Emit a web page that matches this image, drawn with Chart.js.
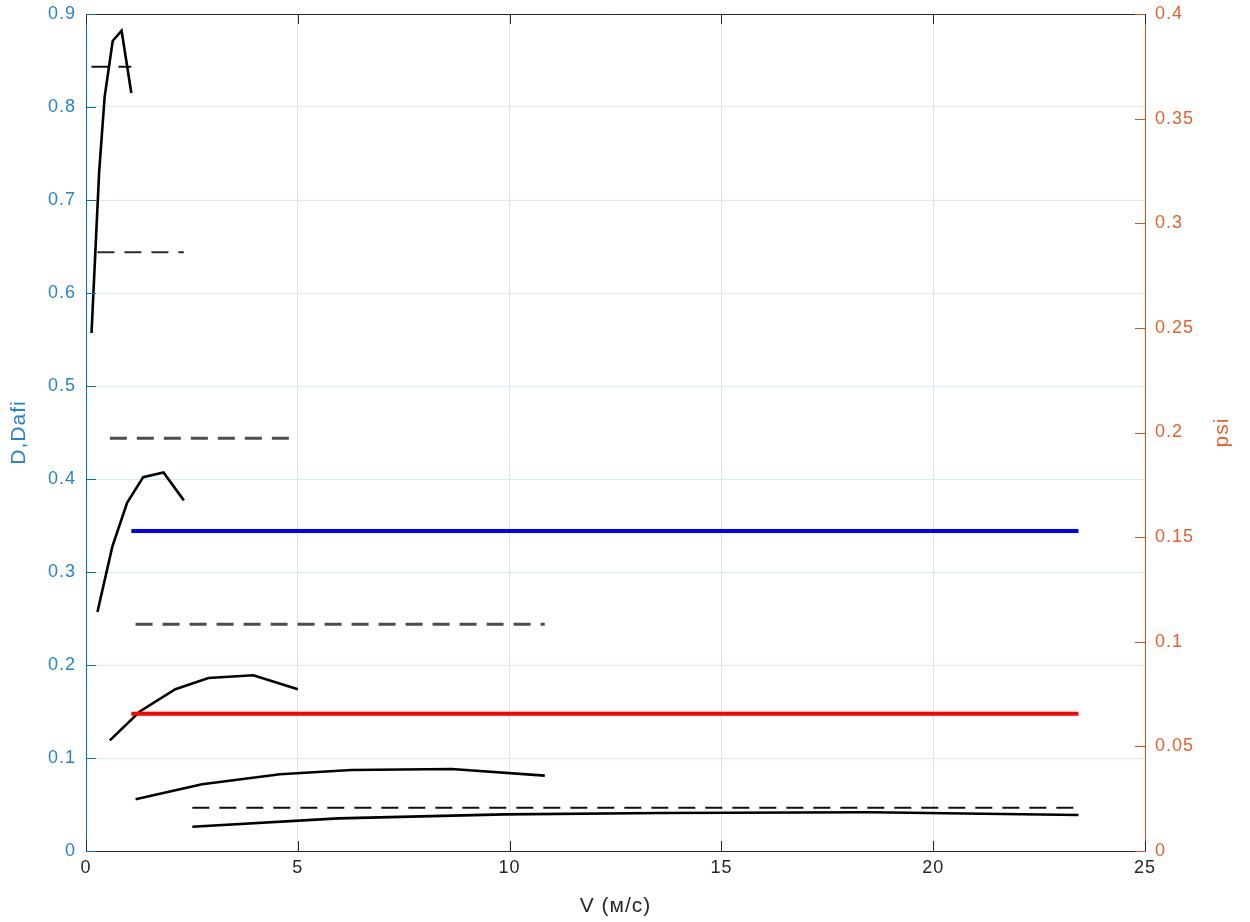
<!DOCTYPE html>
<html>
<head>
<meta charset="utf-8">
<script src="https://cdn.jsdelivr.net/npm/chart.js@4.4.1/dist/chart.umd.min.js"></script>
<style>
  html, body { margin: 0; padding: 0; background: #ffffff; }
  #wrap { width: 1250px; height: 922px; }
</style>
</head>
<body>
<div id="wrap"><canvas id="chart" width="1250" height="922"></canvas></div>
<script>
// Velocity (m/s) and D values of the five measured curves
const v1 = [0.13, 0.31, 0.44, 0.63, 0.84, 1.07];
const d1 = [0.557, 0.730, 0.811, 0.871, 0.882, 0.815];
const v2 = [0.27, 0.62, 0.97, 1.35, 1.83, 2.31];
const d2 = [0.257, 0.327, 0.3745, 0.402, 0.407, 0.377];
const v3 = [0.563, 1.27, 2.11, 2.89, 3.95, 5.0];
const d3 = [0.119, 0.150, 0.174, 0.186, 0.189, 0.174];
const v4 = [1.17, 2.74, 4.58, 6.26, 8.63, 10.83];
const d4 = [0.0556, 0.0717, 0.0825, 0.0871, 0.0882, 0.0810];
const v5 = [2.51, 5.95, 9.88, 13.56, 18.5, 23.43];
const d5 = [0.0261, 0.0351, 0.0394, 0.0409, 0.0416, 0.0387];

// Dafi levels (dashed), each spanning the velocity range of its curve
const dafi = [0.8434, 0.6438, 0.4438, 0.2438, 0.0466];

// psi levels on the right axis over the full velocity range
const psiRange = [1.07, 23.43];
const psiBlue = [0.1529, 0.1529];
const psiRed = [0.0656, 0.0656];

// Tick labels
const vTickLabels = ['0', '5', '10', '15', '20', '25'];
const dTickLabels = ['0', '0.1', '0.2', '0.3', '0.4', '0.5', '0.6', '0.7', '0.8', '0.9'];
const psiTickLabels = ['0', '0.05', '0.1', '0.15', '0.2', '0.25', '0.3', '0.35', '0.4'];
const psiTitle = 'psi';

const FONT = '"Liberation Sans", Arial, Helvetica, sans-serif';
const AX_DARK = '#262626';
const AX_BLUE = '#0072BD';
const AX_ORANGE = '#D95319';
const TXT_BLUE = '#2584cc';
const TXT_ORANGE = '#e0622e';

const pts = (xs, ys) => xs.map((x, i) => ({ x: x, y: ys[i] }));

const curves = [[v1, d1], [v2, d2], [v3, d3], [v4, d4], [v5, d5]];
const dashColors = ['#111111', '#2b2b2b', '#4d4d4d', '#4d4d4d', '#111111'];
const dashWidths = [2, 2, 3, 3, 2];

const datasets = [
  { data: pts(psiRange, psiBlue), yAxisID: 'y2', borderColor: '#0000ff', borderWidth: 4 },
  { data: pts(psiRange, psiRed), yAxisID: 'y2', borderColor: '#ff0000', borderWidth: 4 }
];
curves.forEach(([vs, ds]) => {
  datasets.push({ data: pts(vs, ds), yAxisID: 'y', borderColor: '#000000', borderWidth: 2.6 });
});
curves.forEach(([vs], i) => {
  const span = [vs[0], vs[vs.length - 1]];
  datasets.push({
    data: pts(span, [dafi[i], dafi[i]]), yAxisID: 'y',
    borderColor: dashColors[i], borderWidth: dashWidths[i], borderDash: [17, 10]
  });
});
datasets.forEach(ds => { ds.pointRadius = 0; ds.tension = 0; ds.fill = false; });

// Slightly wider text spacing for the axis lettering
const textSpacing = {
  id: 'textSpacing',
  beforeDraw(chart) { chart.ctx.letterSpacing = '1px'; }
};

// Tick marks pointing into the plot box, the top edge of the box,
// and the right-hand axis title reading upwards like the left one
const innerTicks = {
  id: 'innerTicks',
  afterDraw(chart) {
    const { ctx, chartArea: a, scales } = chart;
    const len = 10;
    ctx.save();
    ctx.lineWidth = 1;
    ctx.strokeStyle = AX_DARK;
    ctx.beginPath();
    ctx.moveTo(a.left, a.top + 0.5);
    ctx.lineTo(a.right, a.top + 0.5);
    scales.x.ticks.forEach(t => {
      const px = Math.round(scales.x.getPixelForValue(t.value)) + 0.5;
      ctx.moveTo(px, a.bottom); ctx.lineTo(px, a.bottom - len);
      ctx.moveTo(px, a.top); ctx.lineTo(px, a.top + len);
    });
    ctx.stroke();
    ctx.strokeStyle = AX_BLUE;
    ctx.beginPath();
    scales.y.ticks.forEach(t => {
      const py = Math.round(scales.y.getPixelForValue(t.value)) + 0.5;
      ctx.moveTo(a.left, py); ctx.lineTo(a.left + len, py);
    });
    ctx.stroke();
    ctx.strokeStyle = AX_ORANGE;
    ctx.beginPath();
    scales.y2.ticks.forEach(t => {
      const py = Math.round(scales.y2.getPixelForValue(t.value)) + 0.5;
      ctx.moveTo(a.right, py); ctx.lineTo(a.right - len, py);
    });
    ctx.stroke();

    ctx.translate(chart.width - 28, (a.top + a.bottom) / 2);
    ctx.rotate(-Math.PI / 2);
    ctx.font = '21px ' + FONT;
    ctx.fillStyle = TXT_ORANGE;
    ctx.textAlign = 'center';
    ctx.textBaseline = 'middle';
    ctx.fillText(psiTitle, 0, 0);
    ctx.restore();
  }
};

const noEdgePadding = s => { s.paddingTop = 0; s.paddingBottom = 0; s.paddingLeft = 0; s.paddingRight = 0; };

new Chart(document.getElementById('chart'), {
  type: 'line',
  data: { datasets: datasets },
  plugins: [textSpacing, innerTicks],
  options: {
    responsive: false,
    animation: false,
    events: [],
    layout: { padding: { top: 14, left: 0, right: 0, bottom: 0 } },
    plugins: { legend: { display: false }, tooltip: { enabled: false } },
    scales: {
      x: {
        type: 'linear', position: 'bottom', min: 0, max: 25,
        ticks: { stepSize: 5, padding: 6, color: AX_DARK, font: { family: FONT, size: 18 },
                 callback: (val, i) => vTickLabels[i] },
        grid: { color: '#e2e2e2', lineWidth: 1, drawTicks: false },
        border: { display: true, color: AX_DARK, width: 1 },
        title: { display: true, text: 'V (м/с)', color: AX_DARK,
                 font: { family: FONT, size: 21 }, padding: { top: 0, bottom: 3 } },
        afterFit: s => { s.height = 71; noEdgePadding(s); }
      },
      y: {
        type: 'linear', position: 'left', min: 0, max: 0.9,
        ticks: { stepSize: 0.1, padding: 10, color: TXT_BLUE, font: { family: FONT, size: 18 },
                 callback: (val, i) => dTickLabels[i] },
        grid: { color: '#d8e9f6', lineWidth: 1, drawTicks: false },
        border: { display: true, color: AX_BLUE, width: 1 },
        title: { display: true, text: 'D,Dafi', color: TXT_BLUE,
                 font: { family: FONT, size: 21 }, padding: { top: 7, bottom: 0 } },
        afterFit: s => { s.width = 86; noEdgePadding(s); }
      },
      y2: {
        type: 'linear', position: 'right', min: 0, max: 0.4,
        ticks: { stepSize: 0.05, padding: 10, color: TXT_ORANGE, font: { family: FONT, size: 18 },
                 callback: (val, i) => psiTickLabels[i] },
        grid: { drawOnChartArea: false, drawTicks: false },
        border: { display: true, color: AX_ORANGE, width: 1 },
        title: { display: false },
        afterFit: s => { s.width = 105; noEdgePadding(s); }
      }
    }
  }
});
</script>
</body>
</html>
